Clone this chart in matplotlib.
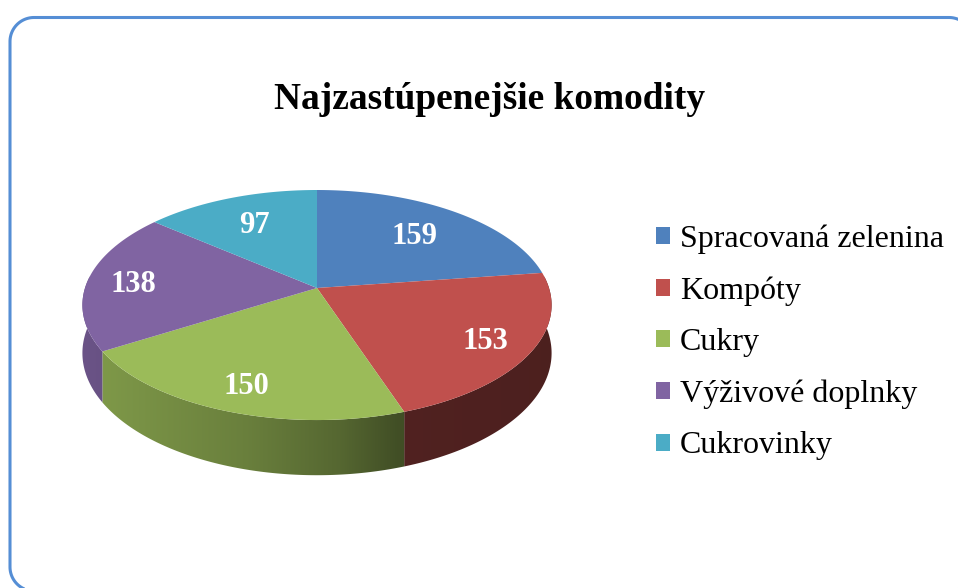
import numpy as np
import matplotlib
matplotlib.use("Agg")
import matplotlib.pyplot as plt
from matplotlib.transforms import Transform, Affine2D
from matplotlib.path import Path
from matplotlib.patches import Polygon
from matplotlib.font_manager import FontProperties
import matplotlib.colors as mcolors

# ---------------- data ----------------
title = "Najzastúpenejšie komodity"
categories = ["Spracovaná zelenina", "Kompóty", "Cukry", "Výživové doplnky", "Cukrovinky"]
values = [159, 153, 150, 138, 97]
colors = ["#4F81BD", "#C0504D", "#9BBB59", "#8064A2", "#4BACC6"]

# ---------------- geometry / style ----------------
W, H = 958, 588
CX, CY = 317.0, 288.0            # pie centre (pixels)
AX, BY, K = 232.0, 112.5, 0.148  # perspective ellipse
DEPTH = 47.0
label_r = [0.69, 0.80, 0.80, 0.80, 0.70]


def project(u, v):
    u = np.asarray(u, float)
    v = np.asarray(v, float)
    w = 1 + K * v
    return CX + AX * u / w, CY - BY * v / w


class Perspective(Transform):
    input_dims = output_dims = 2
    is_separable = False
    has_inverse = False

    def transform_non_affine(self, values):
        values = np.asarray(values, float).reshape(-1, 2)
        x, y = project(values[:, 0], values[:, 1])
        return np.column_stack([x, y])

    def transform_path_non_affine(self, path):
        polys = path.to_polygons(transform=Affine2D().scale(1000.0), closed_only=True)
        if len(polys) == 0:
            return Path(self.transform_non_affine(path.vertices), path.codes)
        paths = [Path(self.transform_non_affine(np.asarray(p) / 1000.0), closed=True)
                 for p in polys]
        return Path.make_compound_path(*paths)


fig = plt.figure(figsize=(W / 100, H / 100), dpi=100)
fig.patch.set_facecolor("white")
ax = fig.add_axes([0, 0, 1, 1])

wedges, _ = ax.pie(values, colors=colors, startangle=90, counterclock=False,
                   radius=1, center=(0, 0), labeldistance=None,
                   wedgeprops=dict(linewidth=0, antialiased=True))

persp = Perspective()
for wdg in wedges:
    wdg.set_transform(persp + ax.transData)
    wdg.set_zorder(3)

# ---------------- side walls (gradient shaded) ----------------
total = float(sum(values))
spans = np.array(values) / total * 360.0
starts = 90.0 - np.concatenate([[0], np.cumsum(spans)[:-1]])
ends = starts - spans


def shade(u):
    return np.interp(u, [-1.0, -0.3, 0.1, 0.35, 1.0], [0.83, 0.68, 0.55, 0.42, 0.40])


xs_img = np.linspace(CX - AX - 10, CX + AX + 10, 400)
u_img = (xs_img - CX) / AX
for i, (s, e) in enumerate(zip(starts, ends)):
    lo, hi = max(e, -186.0), min(s, 6.0)
    if hi <= lo:
        continue
    ts = np.radians(np.linspace(lo, hi, 200))
    tx, ty = project(np.cos(ts), np.sin(ts))
    wv = 1 + K * np.sin(ts)
    bx, by = tx, ty + DEPTH / wv
    pts = np.vstack([np.column_stack([tx, ty]), np.column_stack([bx, by])[::-1]])
    poly = Polygon(pts, closed=True, facecolor="none", edgecolor="none", zorder=2)
    ax.add_patch(poly)
    base = np.array(mcolors.to_rgb(colors[i]))
    grad = np.clip(base[None, :] * shade(u_img)[:, None], 0, 1)[None, :, :]
    im = ax.imshow(grad, extent=(xs_img[0], xs_img[-1], CY + BY * 2, CY - BY * 2),
                   aspect="auto", interpolation="bilinear", zorder=2)
    im.set_clip_path(poly)

ax.set_aspect("auto")
ax.set_xlim(0, W)
ax.set_ylim(H, 0)
ax.axis("off")

# ---------------- value labels ----------------
for i, (s, e) in enumerate(zip(starts, ends)):
    mid = np.radians((s + e) / 2)
    x, y = project(label_r[i] * np.cos(mid), label_r[i] * np.sin(mid))
    ax.text(x, y + 10.5, str(values[i]), ha="center", va="baseline",
            color="white", fontsize=22, fontweight="bold",
            family="Liberation Serif", zorder=5)

# ---------------- title ----------------
fig.text(490 / W, 1 - 109 / H, title, ha="center", va="baseline",
         fontsize=26.9, fontweight="bold", family="Liberation Serif", color="black")

# ---------------- legend ----------------
ax.legend(wedges, categories, loc="center left",
          bbox_to_anchor=(656 / W, 1 - 342.5 / H), bbox_transform=fig.transFigure,
          frameon=False, prop=FontProperties(family="Liberation Serif", size=23),
          handlelength=0.44, handleheight=0.44, handletextpad=0.3,
          labelspacing=0.70, borderpad=0, borderaxespad=0)

# ---------------- outer rounded border (open polyline, pixel coords) ----------------
bx0, by0, bx1, by1, rr = 10.0, 17.5, 973.0, 591.0, 24.0


def arc(cx, cy, a0, a1, n=30):
    a = np.radians(np.linspace(a0, a1, n))
    return cx + rr * np.cos(a), cy + rr * np.sin(a)


segs = [
    arc(bx0 + rr, by1 - rr, 90, 180),      # bottom-left corner
    arc(bx0 + rr, by0 + rr, 180, 270),     # top-left corner
    arc(bx1 - rr, by0 + rr, 270, 360),     # top-right corner
    arc(bx1 - rr, by1 - rr, 0, 90),        # bottom-right corner
]
px = np.concatenate([s[0] for s in segs] + [np.array([bx0 + rr])])
py = np.concatenate([s[1] for s in segs] + [np.array([by1])])
ax.plot(px, py, color="#558ED5", linewidth=2.2, solid_capstyle="butt",
        clip_on=False, zorder=10)

fig.savefig("out.png", dpi=100)
